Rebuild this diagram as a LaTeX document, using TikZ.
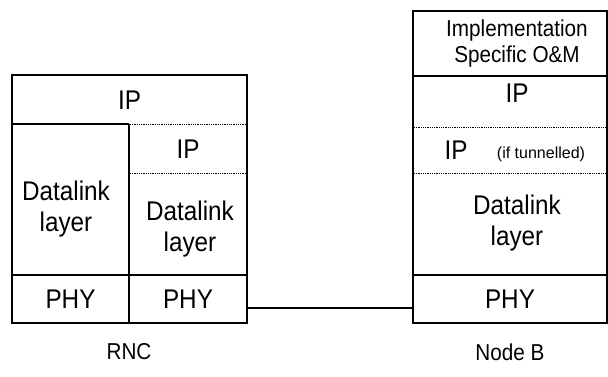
\documentclass[tikz,border=0pt]{standalone}
\usepackage{fontspec}
\setmainfont{Liberation Sans}
\newfontfamily\narrowsans[FakeStretch=0.9]{Liberation Sans}
\begin{document}
\begin{tikzpicture}[x=1pt,y=-1pt,
  thickline/.style={line width=1.8pt},
  dotline/.style={line width=0.9pt, dash pattern=on 0.9pt off 0.9pt},
  big/.style={font=\narrowsans\fontsize{27}{31}\selectfont, align=center, inner sep=0pt},
  mid/.style={font=\narrowsans\fontsize{23}{26}\selectfont, align=center, inner sep=0pt},
  small/.style={font=\fontsize{16}{18}\selectfont, inner sep=0pt},
  cell/.style={draw, thickline, inner sep=0pt, minimum width=#1, minimum height=48pt},
]
\useasboundingbox (0,0) rectangle (608,376);
% ---------- RNC ----------
\draw[thickline] (12,75) rectangle (247,323);
\draw[thickline] (12,124) -- (129,124);
\draw[dotline] (130,124) -- (246,124);
\draw[thickline] (129,124) -- (129,323);
\draw[dotline] (130,173) -- (246,173);
\node[cell=117, big] (rphyA) at (70.5,299) {PHY};
\node[cell=118, big] (rphyB) at (188,299) {PHY};
\node[big] (rip) at (129.5,100) {IP};
\node[big] (rip2) at (188,149) {IP};
\node[big] (rdlA) at (66,209) {Datalink\\layer};
\node[big] (rdlB) at (190,229) {Datalink\\layer};
\node[mid] (rnc) at (129,352) {RNC};
% ---------- Node B ----------
\draw[thickline] (413,11) rectangle (607,323);
\draw[thickline] (413,76) -- (607,76);
\draw[dotline] (414,127) -- (606,127);
\draw[dotline] (414,173) -- (606,173);
\node[cell=194, big] (nphy) at (510,299) {PHY};
\node[font=\narrowsans\fontsize{23}{26}\selectfont, align=center, inner sep=0pt] (nom) at (517,44) {Implementation\\Specific O\&M};
\node[big] (nip) at (517,93) {IP};
\node[big] (nip2) at (456,150) {IP};
\node[small] (ntun) at (541,154) {(if tunnelled)};
\node[big] (ndl) at (517,223) {Datalink\\layer};
\node[mid] (nodeb) at (510,352) {Node B};
% ---------- link ----------
\draw[line width=1.5pt] ([yshift=-9pt]rphyB.east) -- ([yshift=-9pt]nphy.west);
\end{tikzpicture}
\end{document}
